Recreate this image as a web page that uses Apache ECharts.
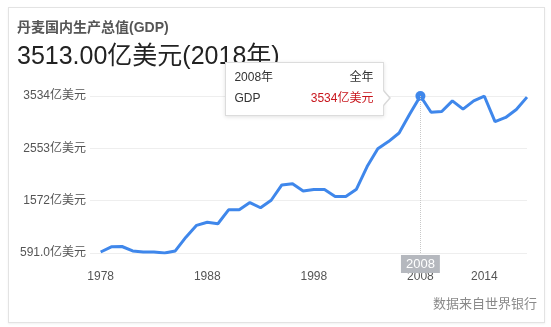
<!DOCTYPE html>
<html>
<head>
<meta charset="utf-8">
<script src="https://cdn.jsdelivr.net/npm/echarts@6/dist/echarts.min.js"></script>
<style>
  html, body { margin:0; padding:0; background:#fff; }
  #card { position:absolute; left:8px; top:7px; width:535px; height:314px; border:1px solid #e3e3e3; box-shadow:0 1px 2px rgba(0,0,0,0.06); background:#fff; }
  #chart { position:absolute; left:0; top:0; width:551px; height:327px; }
  #tip { position:absolute; display:none; background:#fff; border:1px solid #dcdcdc; padding:4px 10px 6px 8px;
         box-shadow:0 1px 4px rgba(0,0,0,0.12); font:12px/21px Arial, "Liberation Sans", "Noto Sans CJK SC", sans-serif; color:#333; z-index:10; }
  #tip .row { display:flex; justify-content:space-between; width:139px; }
  #tip .val { color:#c8161d; }
  #tip .arrO { position:absolute; right:-8px; top:27px; width:0; height:0; border-top:8px solid transparent; border-bottom:8px solid transparent; border-left:7px solid #d8d8d8; }
  #tip .arrI { position:absolute; right:-6px; top:28px; width:0; height:0; border-top:7px solid transparent; border-bottom:7px solid transparent; border-left:6px solid #fff; }
</style>
</head>
<body>
<div id="card"></div>
<div id="chart"></div>
<div id="tip"></div>
<script>
// ---- data ----
const titleText = '丹麦国内生产总值(GDP)';
const headlineText = '3513.00亿美元(2018年)';
const sourceText = '数据来自世界银行';
const years = [1978,1979,1980,1981,1982,1983,1984,1985,1986,1987,
               1988,1989,1990,1991,1992,1993,1994,1995,1996,1997,
               1998,1999,2000,2001,2002,2003,2004,2005,2006,2007,
               2008,2009,2010,2011,2012,2013,2014,2015,2016,2017,2018];
const gdpValues = [610,707,713,630,610,610,591,630,888,1109,
                   1167,1140,1400,1400,1536,1439,1580,1866,1891,1755,
                   1780,1780,1652,1652,1788,2211,2545,2680,2841,3196,
                   3534,3229,3243,3443,3288,3443,3530,3055,3132,3282,3513];
const xLabelYears = [1978,1988,1998,2008,2014];
const yTickValues = [591,1572,2553,3534];
const yTickLabels = ['591.0亿美元','1572亿美元','2553亿美元','3534亿美元'];
const tipYear = 2008;
const tipIndex = years.indexOf(tipYear);
const unit = '亿美元';

const FONT = 'Arial, "Liberation Sans", "Noto Sans CJK SC", sans-serif';
const BLUE = '#3f87eb';
const seriesData = years.map((y, i) => [y, gdpValues[i]]);

const chart = echarts.init(document.getElementById('chart'), null, {renderer:'canvas'});
chart.setOption({
  animation: false,
  backgroundColor: 'transparent',
  textStyle: { fontFamily: FONT },
  title: [
    { text: titleText, left: 17, top: 21, padding: 0,
      textStyle: { fontSize: 14, fontWeight: 'bold', color: '#555', fontFamily: FONT } },
    { text: headlineText, left: 17, top: 45, padding: 0,
      textStyle: { fontSize: 25, fontWeight: 'normal', color: '#222', fontFamily: FONT } },
    { text: sourceText, right: 14, top: 298, padding: 0,
      textStyle: { fontSize: 13, fontWeight: 'normal', color: '#8a8a8a', fontFamily: FONT } }
  ],
  grid: { left: 90, right: 24, top: 96, bottom: 74, containLabel: false },
  xAxis: {
    type: 'value', min: 1977, max: 2018, interval: 1,
    axisLine: { show: false }, axisTick: { show: false }, splitLine: { show: false },
    axisPointer: {
      show: true, type: 'line', value: tipYear, status: 'show', triggerTooltip: false,
      lineStyle: { color: '#c8c8c8', type: 'dotted', width: 1 },
      label: {
        show: true, backgroundColor: '#b5b8be', color: '#fff', padding: [3, 5, 2, 5],
        fontSize: 13, fontFamily: FONT, margin: 2, borderRadius: 0, shadowBlur: 0,
        formatter: p => String(Math.round(p.value))
      }
    },
    axisLabel: {
      margin: 18, fontSize: 12, color: '#555', fontFamily: FONT,
      formatter: v => xLabelYears.indexOf(v) >= 0 ? String(v) : ''
    }
  },
  yAxis: {
    type: 'value', min: yTickValues[0], max: yTickValues[yTickValues.length-1],
    interval: yTickValues[1] - yTickValues[0],
    axisLine: { show: false }, axisTick: { show: false },
    splitLine: { lineStyle: { color: '#eeeeee', width: 1 } },
    axisLabel: {
      margin: 4, fontSize: 12, color: '#555', fontFamily: FONT,
      formatter: (v, i) => yTickLabels[i] != null ? yTickLabels[i] : v + unit
    }
  },
  series: [{
    type: 'line',
    data: seriesData,
    showSymbol: false,
    symbol: 'circle',
    lineStyle: { color: BLUE, width: 3 },
    itemStyle: { color: BLUE },
    markPoint: {
      symbol: 'circle', symbolSize: 10, silent: true,
      itemStyle: { color: BLUE, borderWidth: 0 },
      label: { show: false },
      data: [{ coord: [tipYear, gdpValues[tipIndex]] }]
    }
  }]
});

// tooltip panel anchored to the data point via the chart's own scale
const pt = chart.convertToPixel({ gridIndex: 0 }, [tipYear, gdpValues[tipIndex]]);
const tip = document.getElementById('tip');
tip.innerHTML =
  '<div class="row"><span>' + tipYear + '年</span><span>全年</span></div>' +
  '<div class="row"><span>GDP</span><span class="val">' + gdpValues[tipIndex] + unit + '</span></div>' +
  '<div class="arrO"></div><div class="arrI"></div>';
tip.style.display = 'block';
tip.style.left = (pt[0] - 195) + 'px';
tip.style.top = (pt[1] - 34) + 'px';
</script>
</body>
</html>
